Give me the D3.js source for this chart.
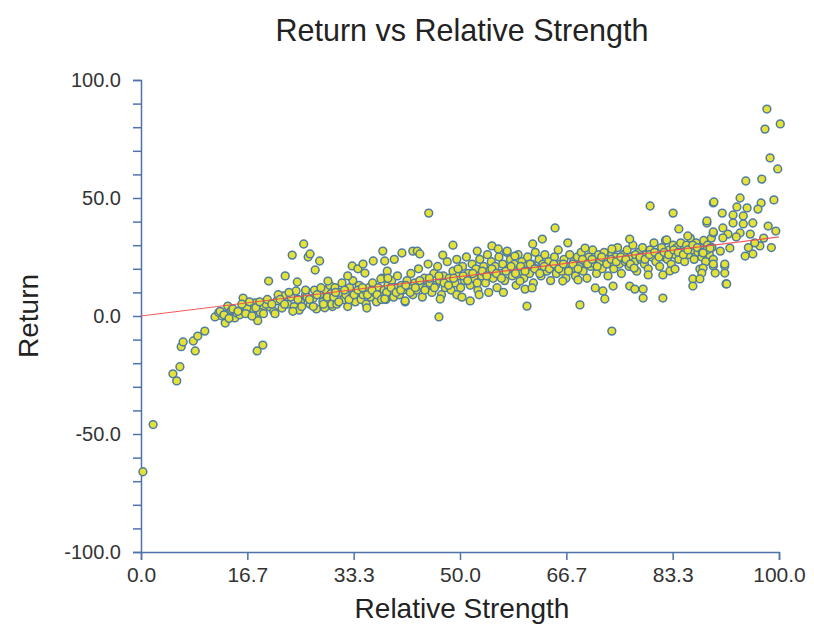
<!DOCTYPE html>
<html>
<head>
<meta charset="utf-8">
<script src="https://cdn.jsdelivr.net/npm/d3@7"></script>
<style>
  body { margin: 0; background: #fff; }
  text { font-family: "Liberation Sans", Arial, sans-serif; }
</style>
</head>
<body>
<svg id="chart"></svg>
<script>
// Relative strength (x) vs return (y)
const outlierPoints = [
  [0.3,-66],[1.9,-46],[5.0,-24.5],[5.6,-27.5],[6.1,-21.5],[6.3,-13],[6.6,-11],[8.2,-10.6],[8.5,-14.8],
  [8.9,-8.5],[10.0,-6.4],[18.2,-14.8],[19.1,-12.3],[18.3,-2],[20,14.8],[22.6,17],[23.7,25.8],[25.5,30.5],
  [26.2,25],[24.5,14.4],[24.3,10.6],[22.3,8.5],[21.3,6.4],[16,7.6],[13.6,4.2]
];
const leftBand = [
  [11.6,-0.4],[12.7,0],[13.2,-3],[13.6,1],[14.7,-0.8],[15,1.3],[16.1,4.2],[17.1,1.3],[17.6,3],[19.1,3],
  [20.2,3.8],[20.8,2],[22.1,3.4],[12.2,1.5],[14.2,2.5],[15.5,0.5],[16.6,3.5],[17.9,5.5],[18.7,1.5],[19.6,5],
  [21.5,9],[23,5],[23.5,8],[24,4],[25,6],[25.8,9],[26.5,5],[27,7.5],[27.5,3],[28,9],[28.5,6],[29,11],
  [29.5,7],[30,4],[24.8,2.5],[26,8],[27.2,11],[28.8,3.5],[29.8,9.5],
  [12.4,2],[13.0,0.5],[13.8,-1],[14.4,3],[15.2,2],[15.8,5],[16.4,1],[17.0,6],[17.4,0],[18.0,3.5],[18.6,6],
  [19.2,1],[19.8,7],[20.5,5],[21.0,1],[21.8,7],[22.5,5],[23.2,10],[23.8,2],[24.6,7],[25.2,4],[25.8,11],
  [26.4,7],[27.0,4],[27.6,9],[28.2,12],[28.6,5],[29.2,8],[29.6,13],[29.9,5]
];
const mainBand = [
  [30.2,8],[30.4,12],[30.7,5],[31.2,10],[31.5,14],[31.8,7],[32.1,9],[32.4,4],[32.7,12],[33.0,8],[33.2,15],
  [33.6,6],[33.9,10],[34.2,13],[34.5,7],[34.8,9],[35.1,11],[35.3,5],[35.7,12],[36.0,8],[36.3,14],[36.6,10],
  [36.9,6],[37.2,12],[37.5,9],[37.8,16],[38.1,11],[38.4,7],[38.7,13],[39.0,10],[39.3,15],[39.6,8],[39.9,12],
  [40.2,17],[40.5,9],[40.8,13],[41.1,11],[41.4,6],[41.7,15],[42.0,12],[42.3,18],[42.6,9],[42.9,14],[43.2,11],
  [43.5,20],[43.8,13],[44.1,8],[44.4,16],[44.7,12],[45.0,22],[45.3,14],[45.6,10],[45.9,18],[46.2,13],[46.5,21],
  [46.8,15],[47.1,9],[47.4,17],[47.7,12],[48.0,23],[48.3,16],[48.6,11],[48.9,19],[49.2,14],[49.5,24],[49.8,17],
  [50.1,12],[50.4,21],[50.7,15],[51.0,25],[51.3,18],[51.6,13],[51.9,22],[52.2,16],[52.5,20],[52.8,11],[53.1,24],
  [53.4,17],[53.7,21],[54.0,14],[54.3,26],[54.6,19],[54.9,23],[55.2,16],[55.5,21],[55.8,12],[56.1,25],[56.4,18],
  [56.7,22],[57.0,15],[57.3,27],[57.6,20],[57.9,24],[58.2,17],[58.5,22],[58.8,13],[59.1,26],[59.4,19],[59.7,23],
  [60.0,16],[60.3,21],[60.6,25],[60.9,18],[61.2,22],[61.5,14],[61.8,27],[62.1,20],[62.4,24],[62.7,17],[63.0,22],
  [63.3,26],[63.6,19],[63.9,23],[64.2,15],[64.5,21],[64.8,25],[65.1,18],[65.4,28],[65.7,22],[66.0,19],[66.3,24],
  [66.6,16],[66.9,21],[67.2,26],[67.5,20],[67.8,23],[68.1,17],[68.4,25],[68.7,21],[69.0,27],[69.3,19],[69.6,23],
  [69.9,16],[70.2,25],[70.5,21],[70.8,28],[71.1,22],[71.4,18],[71.7,26],[72.0,23],[72.3,20],[72.6,27],[72.9,24],
  [73.2,17],[73.5,22],[73.8,26],[74.1,20],[74.4,25],[74.7,29],[75.0,22],[75.3,18],[75.6,26],[75.9,23],[76.2,28],
  [76.5,21],[76.8,25],[77.1,30],[77.4,23],[77.7,19],[78.0,27],[78.3,24],[78.6,29],[78.9,22],[79.2,26],[79.5,20],
  [79.8,28],[80.1,25],[80.4,31],[80.7,23],[81.0,27],[81.3,21],[81.6,29],[81.9,25],[82.2,32],[82.5,24],[82.8,28],
  [83.1,22],[83.4,30],[83.7,26],[84.0,29],[84.3,24],[84.6,31],[84.9,27],[85.2,23],[85.5,30],[85.8,26],[86.1,33],
  [86.4,28],[86.7,24],[87.0,31],[87.3,27],[87.6,29],[87.9,25],[88.2,32],[88.5,23],[88.8,30],[89.1,26],[89.4,33],
  [89.7,24],
  [30.5,10],[31.0,6],[31.9,11],[32.6,7],[33.4,9],[34.0,11],[34.7,12],[35.5,9],[36.2,11],[37.0,9],[37.7,7],
  [38.5,10],[39.2,12],[40.0,10],[40.7,11],[41.5,13],[42.2,10],[43.0,12],[43.7,15],[44.5,11],[45.2,16],[46.0,12],
  [46.7,17],[47.5,14],[48.2,13],[49.0,16],[49.7,20],[50.5,17],[51.2,15],[52.0,18],[52.7,14],[53.5,19],[54.2,17],
  [55.0,20],[55.7,18],[56.5,16],[57.2,19],[58.0,21],[58.7,18],[59.5,21],[60.2,19],[61.0,22],[61.7,20],[62.5,18],
  [63.2,21],[64.0,20],[64.7,22],[65.5,20],[66.2,22],[67.0,19],[67.7,22],[68.5,20],[69.2,24],[70.0,22],[70.7,24],
  [71.5,21],[72.2,25],[73.0,22],[73.7,24],[74.5,23],[75.2,25],[76.0,24],[76.7,22],[77.5,26],[78.2,25],[79.0,24],
  [79.7,26],[80.5,27],[81.2,25],[82.0,27],[82.7,26],[83.5,28],[84.2,27],[85.0,26],[85.7,28],[86.5,30],[87.2,29],
  [88.0,27],[88.7,28],[89.5,29]
];
const scatterPoints = [
  [26.5,26.3],[28,23.3],[27.3,19.5],[29.3,14.8],[32.4,17],[33.1,21.2],[34,20],[34.8,22],[35.1,18.2],[36.4,23.3],
  [37.9,27.5],[38.2,23.3],[39.7,24],[40.9,26.7],[42.6,27.5],[38.6,19],[37.6,15.7],[38.7,16],[35.4,3.4],[38.2,7.2],
  [41.4,6.4],
  [45.1,43.6],[48.9,30],[43.3,27.5],[43.7,26.3],[47.3,25.8],[52.7,27.5],[55,29.7],[56,28.4],[57.4,27.5],[58.6,25.4],
  [46.9,7.2],[46.7,-0.4],[51.6,6.4],[49.5,9],[50.3,8],[53,9],[54.5,10],[56.8,10],
  [64.9,37.3],[62.9,32.6],[66.9,31],[61.4,30.5],[69.6,28.8],[73.8,28.4],[60.5,4.2],[68.8,4.7],[73.8,-6.4],
  [71.2,11.9],[72.4,10.6],[72.7,7.2],[74,12.7],[59.4,14.8],[60.2,11.4],[61.3,11.9],[66.1,14.8],[68.5,15.3],
  [79.8,46.6],[83.4,43.6],[89.7,47.9],[91.1,43.6],[88.7,39.4],[84.3,36.9],[85.7,33.9],[76.6,32.6],[82.4,32.2],
  [89.7,35.2],[79.5,17.4],[81.8,17.4],[82.9,19.1],[83.7,19.9],[76.6,12.7],[77.4,11.4],[78.7,11.4],[78.7,7.6],
  [81.8,7.6],[86.5,15.7],[86.5,12.7],[87.6,19.9],[89.7,21.2],[91.5,21.2],[91.7,13.6],[77.3,20.3]
];
const rightTail = [
  [98.1,87.7],[100.2,81.4],[97.8,79.2],[98.6,67],[99.8,62.3],[97.3,58],[94.8,57.2],[99.2,49.2],[93.9,50],
  [97.2,47.9],[89.8,48.3],[93.4,46.2],[95,45.8],[92.8,42.8],[94.4,42.4],[96.7,45.3],[88.7,40.3],[91.2,37.3],
  [92.8,39.4],[94.4,39],[95.9,39.4],[98.3,38.1],[89.7,35.6],[92,34.7],[93.9,35.2],[95.5,34.7],[91.2,33.1],
  [93.3,33.5],[97,29.7],[95.9,26.3],[94.7,25.4],[88.1,26.7],[89.2,28.8],[90.8,27.5],[92.3,28.8],[88.1,20.3],
  [89.7,22],[90,18.2],[91.5,22],[91.5,18.2],[91.8,13.6],[87.9,18.2],[87.6,15.7],
  [96.2,31],[97.6,33],[98.8,29],[99.5,36],[95.2,29]
];
const trendLine = [[0, 0], [100, 33.5]];
const xTicks = [0, 100 / 6, 200 / 6, 50, 400 / 6, 500 / 6, 100];
const yTicks = [-100, -50, 0, 50, 100];
const yMinorTicks = d3.range(-100, 101, 10);

const points = [...outlierPoints, ...leftBand, ...mainBand, ...scatterPoints, ...rightTail];

const W = 814, H = 629;
const margin = { top: 80, right: 35, bottom: 77, left: 141 };
const svg = d3.select('#chart').attr('width', W).attr('height', H);

const x = d3.scaleLinear().domain([0, 100]).range([margin.left, W - margin.right]);
const y = d3.scaleLinear().domain([-100, 100]).range([H - margin.bottom, margin.top]);
const axisColor = '#4f72aa';
const fmt = d => d3.format('.1f')(d).replace('\u2212', '-');

// title
svg.append('text')
  .attr('x', 462).attr('y', 41)
  .attr('text-anchor', 'middle')
  .attr('font-size', 30.5).attr('fill', '#222')
  .text('Return vs Relative Strength');

// y axis with minor ticks
const yAxis = svg.append('g')
  .attr('transform', `translate(${margin.left},0)`)
  .call(d3.axisLeft(y).tickValues(yMinorTicks).tickSize(8)
    .tickFormat(d => yTicks.includes(d) ? fmt(d) : ''));
yAxis.select('.domain').attr('stroke', axisColor).attr('stroke-width', 1.5);
yAxis.selectAll('.tick line').attr('stroke', axisColor).attr('stroke-width', 1.5);
yAxis.selectAll('.tick text')
  .attr('font-size', 20).attr('fill', '#333')
  .attr('font-family', '"Liberation Sans", Arial, sans-serif')
  .attr('x', -20);

// x axis
const xAxis = svg.append('g')
  .attr('transform', `translate(0,${H - margin.bottom})`)
  .call(d3.axisBottom(x).tickValues(xTicks).tickSize(8).tickFormat(fmt));
xAxis.select('.domain').attr('stroke', axisColor).attr('stroke-width', 1.5);
xAxis.selectAll('.tick line').attr('stroke', axisColor).attr('stroke-width', 1.5);
xAxis.selectAll('.tick text')
  .attr('font-size', 21).attr('fill', '#333')
  .attr('font-family', '"Liberation Sans", Arial, sans-serif')
  .attr('y', 15);

// axis titles
svg.append('text')
  .attr('x', 462).attr('y', 618)
  .attr('text-anchor', 'middle')
  .attr('font-size', 28).attr('fill', '#222')
  .text('Relative Strength');
svg.append('text')
  .attr('transform', `translate(38,${y(0)}) rotate(-90)`)
  .attr('text-anchor', 'middle')
  .attr('font-size', 28).attr('fill', '#222')
  .text('Return');

// points
svg.append('g')
  .selectAll('circle')
  .data(points)
  .join('circle')
  .attr('cx', d => x(d[0]))
  .attr('cy', d => y(d[1]))
  .attr('r', 3.9)
  .attr('fill', '#e4e236')
  .attr('stroke', '#4f7b9e')
  .attr('stroke-width', 1.5);

// trend line
svg.append('path')
  .datum(trendLine)
  .attr('fill', 'none')
  .attr('stroke', '#ec4b4b')
  .attr('stroke-width', 1.2)
  .attr('opacity', 0.9)
  .attr('d', d3.line().x(d => x(d[0])).y(d => y(d[1])));
</script>
</body>
</html>
